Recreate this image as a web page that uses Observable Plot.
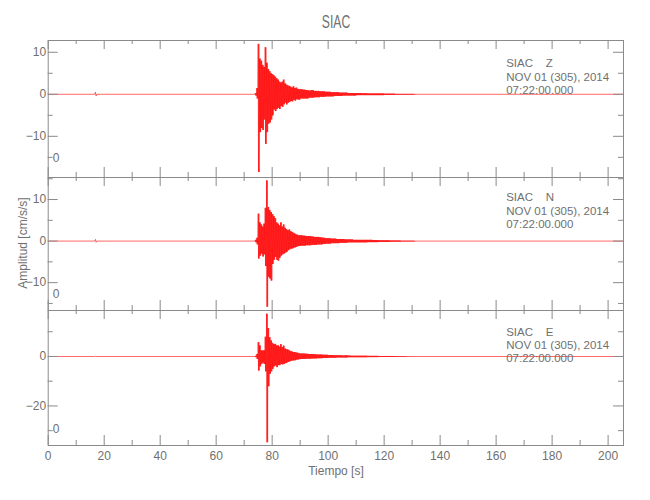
<!DOCTYPE html>
<html><head><meta charset="utf-8">
<script src="https://cdn.jsdelivr.net/npm/d3@7"></script>
<script src="https://cdn.jsdelivr.net/npm/@observablehq/plot@0.6"></script>
<style>
body{margin:0;background:#fff;}
#chart{position:relative;width:650px;height:500px;overflow:hidden;font-family:"Liberation Sans",Arial,sans-serif;color:#707070;background:#fff;}
#chart svg{position:absolute;left:0;}
.lbl{position:absolute;white-space:nowrap;line-height:1;}
</style></head><body><div id="chart"></div>
<script>
// ---- data ----
const stationTitle = "SIAC";
const components = ["Z", "N", "E"];
const dateLine = "NOV 01 (305), 2014";
const timeLine = "07:22:00.000";
const xLabel = "Tiempo [s]";
const yLabel = "Amplitud [cm/s/s]";

const xMajor = [0, 20, 40, 60, 80, 100, 120, 140, 160, 180, 200];
const xMinor = [10, 30, 50, 70, 90, 110, 130, 150, 170, 190];

// pre-event samples (tiny blip near 17 s)
const preT = [0, 16.6, 16.9, 17.1, 17.4, 73.8];
const preZ = [0, 0, 0.5, -0.4, 0, 0];
const preN = [0, 0, 0.4, -0.3, 0, 0];
const preE = [0, 0, 0.15, -0.1, 0, 0];
const endT = [131, 205.4];

// envelope sampling times (s)
const tGrid = [74, 74.5, 75, 75.5, 76, 76.5, 77, 77.5, 78, 78.5, 79, 79.5, 80, 80.5, 81, 81.5, 82, 82.5, 83, 83.5, 84, 84.5, 85, 85.5, 86, 86.5, 87, 87.5, 88, 88.5, 89, 89.5, 90,
  91, 92, 93, 94, 95, 96, 97, 98, 99, 100, 101, 102, 103, 104, 105, 106, 107, 108, 109, 110,
  112, 114, 116, 118, 120, 122, 124, 126, 128, 130];

// Z component: positive and negative peaks (cm/s/s)
const hiZ = [0.3, 1.5, 12, 8.5, 8, 7, 6.5, 11.2, 7.5, 6, 5.5, 5, 4.8, 4.5, 4.2, 3.8, 3.5, 3, 2.8, 3, 3.5, 2.6, 2.3, 2.1, 2, 1.8, 1.6, 1.9, 1.5, 1.6, 1.3, 1.2, 1.2,
  1.1, 1.0, 0.9, 1.0, 0.8, 0.8, 0.7, 0.7, 0.6, 0.6, 0.5, 0.5, 0.5, 0.4, 0.4, 0.4, 0.3, 0.3, 0.3, 0.3,
  0.25, 0.2, 0.2, 0.2, 0.15, 0.15, 0.1, 0.1, 0.1, 0.1];
const loZ = [-0.3, -1, -18.5, -9, -8, -8.5, -6, -11.8, -9, -7, -6.7, -6, -5, -3.6, -4, -3.5, -3.2, -3.5, -2.8, -3, -2.4, -2, -2.4, -2, -1.8, -1.6, -1.7, -1.3, -1.5, -1.2, -1.2, -1.3, -1.0,
  -1.0, -1.0, -0.8, -0.8, -0.7, -0.7, -0.6, -0.6, -0.5, -0.5, -0.5, -0.4, -0.4, -0.4, -0.3, -0.3, -0.3, -0.3, -0.3, -0.2,
  -0.2, -0.2, -0.2, -0.2, -0.15, -0.15, -0.1, -0.1, -0.1, -0.1];

// N component
const hiN = [0.3, 0.8, 6.6, 4.5, 4, 3.5, 4.2, 8, 14.6, 8.2, 7.5, 7, 6.5, 6, 5.5, 4.5, 4.2, 3.8, 4.5, 3.5, 4, 3.2, 2.9, 2.6, 2.8, 2.4, 2.2, 2.0, 1.8, 1.6, 1.5, 1.4, 1.4,
  1.3, 1.2, 1.2, 1.1, 1.0, 1.0, 0.9, 0.8, 0.7, 0.7, 0.6, 0.6, 0.5, 0.5, 0.5, 0.4, 0.4, 0.4, 0.3, 0.3,
  0.3, 0.3, 0.25, 0.2, 0.2, 0.15, 0.15, 0.1, 0.1, 0.1];
const loN = [-0.3, -0.8, -4.2, -3.5, -3, -3.7, -3.2, -6, -15.8, -8.6, -9, -9.5, -5.5, -4.5, -3.8, -4.5, -4.7, -4, -3.5, -3.2, -3, -2.8, -2.6, -2.2, -2, -1.8, -1.8, -1.6, -1.5, -1.4, -1.2, -1.2, -1.1,
  -1.1, -1.0, -1.0, -0.9, -0.9, -0.8, -0.8, -0.7, -0.6, -0.6, -0.5, -0.5, -0.5, -0.4, -0.4, -0.4, -0.3, -0.3, -0.3, -0.3,
  -0.3, -0.25, -0.25, -0.2, -0.2, -0.15, -0.15, -0.1, -0.1, -0.1];

// E component
const hiE = [0.3, 1, 5.8, 4.5, 2.5, 2.4, 2.5, 8, 17.3, 11.5, 7.8, 6.5, 5.5, 5, 5.1, 4.5, 4.5, 4, 5, 3.8, 4.4, 3.2, 3, 2.8, 2.5, 2.2, 2, 1.8, 1.8, 1.6, 1.5, 1.3, 1.2,
  1.2, 1.1, 1.0, 1.0, 0.9, 0.8, 0.8, 0.7, 0.7, 0.6, 0.6, 0.5, 0.5, 0.5, 0.4, 0.5, 0.4, 0.3, 0.3, 0.3,
  0.3, 0.25, 0.25, 0.2, 0.2, 0.2, 0.15, 0.15, 0.1, 0.1];
const loE = [-0.3, -1, -5.7, -4, -3, -2.5, -3, -6, -34.7, -12, -7, -6, -5, -4, -3.6, -4.3, -3.5, -3.5, -3, -3.2, -3, -2.7, -2.5, -2.2, -2, -1.8, -1.6, -1.6, -1.5, -1.3, -1.2, -1.1, -1.0,
  -1.0, -0.9, -0.9, -0.8, -0.8, -0.7, -0.7, -0.6, -0.6, -0.5, -0.5, -0.5, -0.4, -0.4, -0.4, -0.4, -0.3, -0.3, -0.3, -0.3,
  -0.3, -0.25, -0.25, -0.2, -0.2, -0.2, -0.15, -0.15, -0.1, -0.1];

// axis ranges and ticks per panel
const yDomZ = [-19.8, 12.8], yMajZ = [-10, 0, 10], yMinZ = [-15, -5, 5];
const yDomN = [-16.7, 15.3], yMajN = [-10, 0, 10], yMinN = [-15, -5, 5, 15];
const yDomE = [-36, 18.6],   yMajE = [-20, 0],     yMinE = [-30, -10, 10];

// ---- build: oscillate between each bin's read peaks ----
function trace(pre, hi, lo) {
  const pts = preT.map((t, i) => ({t, v: pre[i]}));
  tGrid.forEach((t, i) => {
    const next = i < tGrid.length - 1 ? tGrid[i + 1] : t + 1;
    const dt = next - t;
    const n = Math.max(2, Math.round(dt / 0.125));
    for (let k = 0; k < n; k++) {
      pts.push({t: t + k * dt / n, v: k % 2 === 0 ? hi[i] : lo[i]});
    }
  });
  endT.forEach(t => pts.push({t, v: 0}));
  return pts;
}

const W = 650, ML = 47.7, MR = 27;
const innerW = W - ML - MR;
const FRAME = "#8a8a8a", TEXT = "#707070";
const xDom = [0, 205.5];

const panels = [
  {comp: components[0], top: 40,  bottom: 177, dom: yDomZ, maj: yMajZ, min: yMinZ, data: trace(preZ, hiZ, loZ), infoDy: 17, zeroDy: -16},
  {comp: components[1], top: 177, bottom: 310, dom: yDomN, maj: yMajN, min: yMinN, data: trace(preN, hiN, loN), infoDy: 14, zeroDy: -13},
  {comp: components[2], top: 310, bottom: 445, dom: yDomE, maj: yMajE, min: yMinE, data: trace(preE, hiE, loE), infoDy: 15.5, zeroDy: -13}
];

const chart = document.getElementById("chart");

panels.forEach((p, i) => {
  const h = p.bottom - p.top;
  const info = `${stationTitle}\u00a0\u00a0\u00a0\u00a0${p.comp}\n${dateLine}\n${timeLine}`;
  const marks = [
    Plot.line(p.data, {x: "t", y: "v", stroke: "#ff0000", strokeWidth: 0.6}),
    Plot.frame({stroke: FRAME}),
    Plot.tickY(p.maj, {y: d => d, stroke: FRAME, insetRight: innerW - 10}),
    Plot.tickY(p.min, {y: d => d, stroke: FRAME, insetRight: innerW - 5}),
    Plot.tickY(p.maj, {y: d => d, stroke: FRAME, insetLeft: innerW - 10}),
    Plot.tickY(p.min, {y: d => d, stroke: FRAME, insetLeft: innerW - 5}),
    Plot.tickX(xMajor, {x: d => d, stroke: FRAME, insetBottom: h - 9}),
    Plot.tickX(xMinor, {x: d => d, stroke: FRAME, insetBottom: h - 4}),
    Plot.tickX(xMajor, {x: d => d, stroke: FRAME, insetTop: h - 10}),
    Plot.tickX(xMinor, {x: d => d, stroke: FRAME, insetTop: h - 5}),
    Plot.axisY(p.maj, {tickSize: 0, tickPadding: 2, fontSize: 12, label: null, fill: TEXT}),
    Plot.text([info], {frameAnchor: "top-left", dx: 458, dy: p.infoDy, lineAnchor: "top", textAnchor: "start", lineHeight: 1.17, fontSize: 11.5, fill: TEXT}),
    Plot.text(["0"], {frameAnchor: "bottom-left", dx: 4.5, dy: p.zeroDy, lineAnchor: "bottom", textAnchor: "start", fontSize: 12, fill: TEXT})
  ];
  if (i === 2) {
    marks.push(Plot.axisX(xMajor, {tickSize: 0, tickPadding: 6, fontSize: 12, label: null, fill: TEXT}));
  }
  const svg = Plot.plot({
    width: W, height: h,
    marginLeft: ML, marginRight: MR, marginTop: 0, marginBottom: 0,
    x: {domain: xDom, axis: null},
    y: {domain: p.dom, axis: null},
    style: {background: "none", overflow: "visible", fontFamily: "'Liberation Sans', Arial, sans-serif", color: TEXT},
    marks
  });
  svg.style.top = p.top + "px";
  chart.appendChild(svg);
});

function label(text, css) {
  const d = document.createElement("div");
  d.className = "lbl";
  d.textContent = text;
  Object.assign(d.style, css);
  chart.appendChild(d);
}
label(stationTitle, {left: "336px", top: "21px", fontSize: "19px", transform: "translate(-50%,-50%) scale(0.64,1)"});
label(xLabel, {left: "336px", top: "471px", fontSize: "12px", transform: "translate(-50%,-50%)"});
label(yLabel, {left: "23px", top: "243px", fontSize: "12px", transform: "translate(-50%,-50%) rotate(-90deg)"});
</script>
</body></html>
